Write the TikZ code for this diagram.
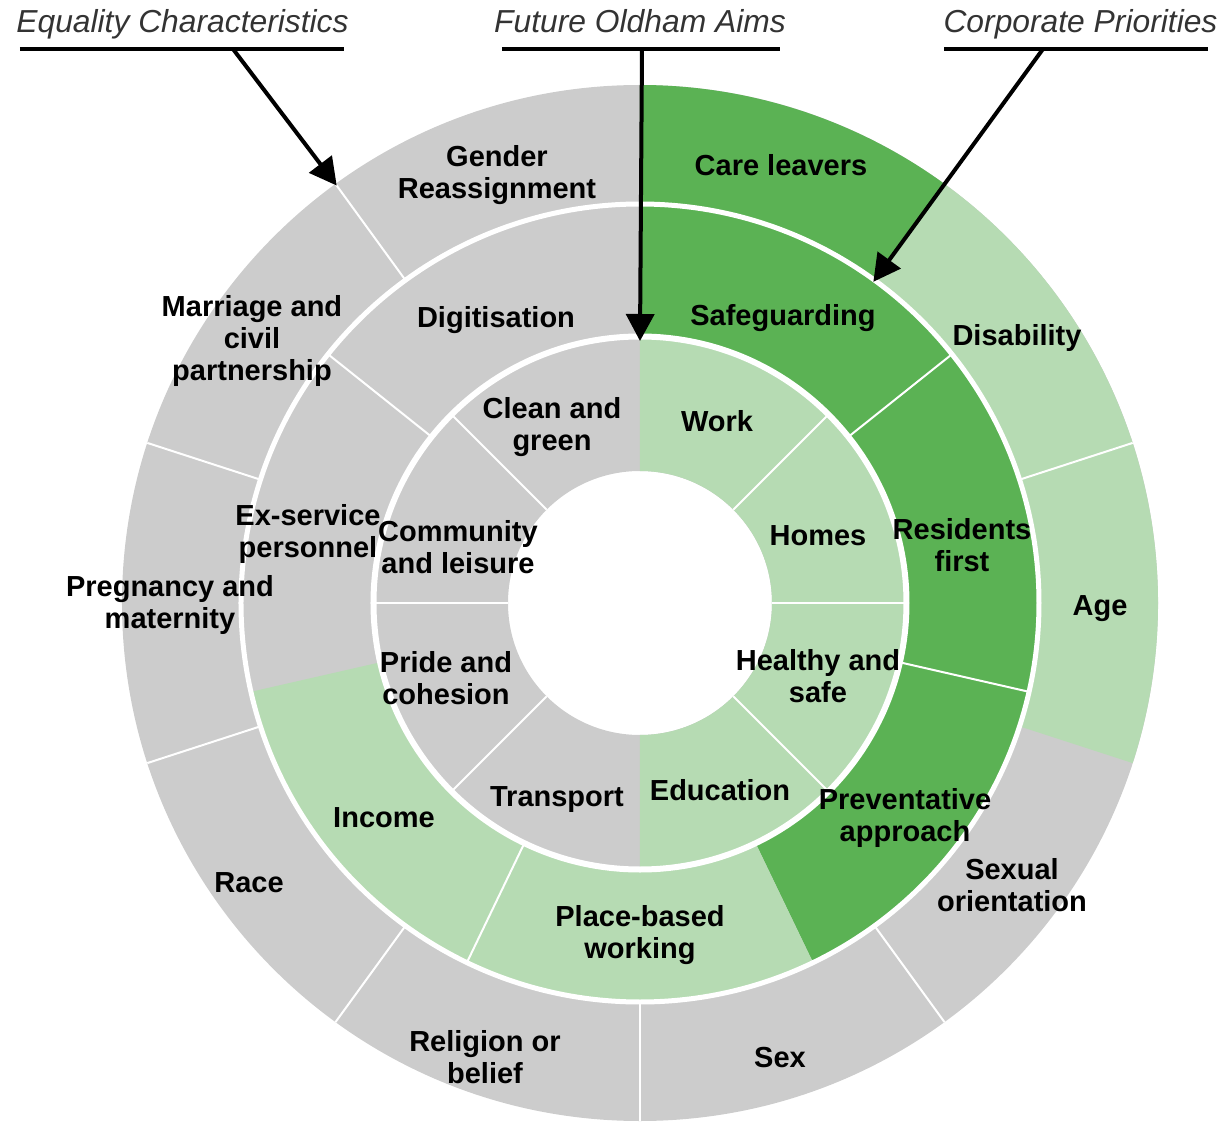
\documentclass[tikz,border=0pt]{standalone}
\usepackage{fontspec}
\setmainfont{Liberation Sans}
\usetikzlibrary{arrows.meta}
\definecolor{dkgreen}{RGB}{91,178,84}
\definecolor{ltgreen}{RGB}{182,219,179}
\definecolor{ltgray}{RGB}{204,204,204}
\definecolor{capgray}{RGB}{51,51,51}
\begin{document}
\begin{tikzpicture}
[x=1pt,y=1pt,%
  every node/.style={align=center,inner sep=0pt,font=\bfseries\fontsize{29}{32}\selectfont},%
  caption/.style={anchor=base,font=\itshape\fontsize{31.8}{36}\selectfont,text=capgray},%
  gap/.style={white,line width=2pt},%
  rim/.style={white,line width=5pt},%
  bar/.style={line width=4pt},%
  pointer/.style={line width=4pt,-{Triangle[length=27pt,width=28pt]}}]
\useasboundingbox (-640,-519) rectangle (584,603);
% rings: grey base, green sectors on top
\fill[ltgray,even odd rule] (0,0) circle[radius=518] circle[radius=132];
\foreach \a/\b/\r/\R/\c in {90/54/399/518/dkgreen,54/-18/399/518/ltgreen,%
    90/-64.29/266/399/dkgreen,-64.29/-167.14/266/399/ltgreen,90/-90/132/266/ltgreen}
  \fill[\c] (\a:\r) arc[start angle=\a,end angle=\b,radius=\r]
    -- (\b:\R) arc[start angle=\b,end angle=\a,radius=\R] -- cycle;
\foreach \a in {18,-54,-90,-126,-162,162,126}
  \draw[gap] (\a:399) -- (\a:518);
\foreach \a in {38.57,-12.86,-115.71,141.43}
  \draw[gap] (\a:266) -- (\a:399);
\foreach \a in {45,0,-45,-135,180,135}
  \draw[gap] (\a:132) -- (\a:266);
\draw[rim,line width=6pt] (0,0) circle[radius=266.5];
\draw[rim] (0,0) circle[radius=399];
% equality characteristics
\node (gender) at (-143,428) {Gender\\Reassignment};
\node (care) at (141,438) {Care leavers};
\node (disab) at (377,265) {Disability};
\node (age) at (460,-6) {Age};
\node (sexor) at (372,-282) {Sexual\\orientation};
\node (sex) at (140,-455) {Sex};
\node (relig) at (-155,-454) {Religion or\\belief};
\node (race) at (-391,-280) {Race};
\node (preg) at (-470,-2) {Pregnancy and\\maternity};
\node (marr) at (-388,262) {Marriage and\\civil\\partnership};
% corporate priorities
\node (digit) at (-144,283) {Digitisation};
\node (safe) at (143,285) {Safeguarding};
\node (resid) at (322,58) {Residents\\first};
\node (prevent) at (265,-215) {Preventative\\approach};
\node (place) at (0,-332) {Place-based\\working};
\node (income) at (-256,-215) {Income};
\node (exserv) at (-332,69) {Ex-service\\personnel};
% future oldham aims
\node (clean) at (-88,176) {Clean and\\green};
\node (work) at (77,182) {Work};
\node (homes) at (178,67) {Homes};
\node (healthy) at (178,-73) {Healthy and\\safe};
\node (educ) at (80,-187) {Education};
\node (transp) at (-83,-197) {Transport};
\node (pride) at (-194,-75) {Pride and\\cohesion};
\node (commun) at (-182,56) {Community\\and leisure};
% captions and pointers
\node[caption] (eqtitle) at (-457.5,570) {Equality Characteristics};
\node[caption] (aimtitle) at (0,570) {Future Oldham Aims};
\node[caption] (priotitle) at (440.5,570) {Corporate Priorities};
\draw[bar] (-620,554) -- (-296,554);
\draw[bar] (-138,554) -- (140,554);
\draw[bar] (304,554) -- (568,554);
\coordinate (eqfoot) at (-407,554);
\coordinate (aimfoot) at (2,554);
\coordinate (priofoot) at (403,554);
\coordinate (eqtip) at (126:516);
\coordinate (aimtip) at (90:262);
\coordinate (priotip) at (54:397);
\draw[pointer] (eqfoot) -- (eqtip);
\draw[pointer] (aimfoot) -- (aimtip);
\draw[pointer] (priofoot) -- (priotip);
\end{tikzpicture}
\end{document}
